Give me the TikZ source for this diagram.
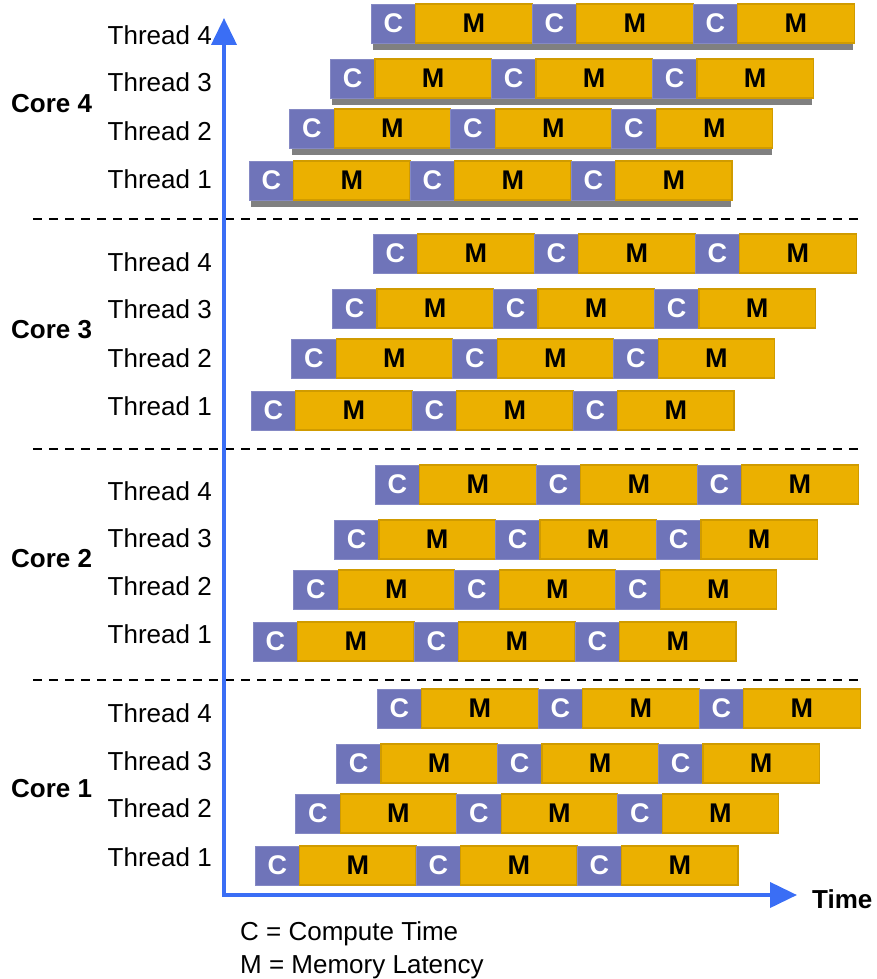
\documentclass[tikz,border=0pt]{standalone}
\usepackage{fontspec}
\setmainfont{Liberation Sans}
\usetikzlibrary{arrows.meta}
\definecolor{cpurple}{HTML}{6F74B9}
\definecolor{cedge}{HTML}{8589C4}
\definecolor{mgold}{HTML}{EBB000}
\definecolor{mgoldedge}{HTML}{D09B00}
\definecolor{axisblue}{HTML}{3A6EF5}
\definecolor{shadowgray}{HTML}{808080}
\begin{document}
\begin{tikzpicture}[x=1pt,y=-1pt,
  cbox/.style={fill=cpurple, draw=cedge, line width=0.8pt, text=white,
    font=\fontsize{27}{27}\selectfont\bfseries, minimum width=44.5pt,
    minimum height=39pt, inner sep=0pt, outer sep=0pt, anchor=north west},
  mbox/.style={fill=mgold, draw=mgoldedge, line width=1.2pt, text=black,
    font=\fontsize{27}{27}\selectfont\bfseries, minimum width=116.5pt,
    minimum height=39pt, inner sep=0pt, outer sep=0pt, anchor=north west},
  lbl/.style={font=\fontsize{26}{26}\selectfont, anchor=base east, inner sep=0pt},
  corelbl/.style={font=\fontsize{26}{26}\selectfont\bfseries, anchor=base west, inner sep=0pt},
  legend/.style={font=\fontsize{26}{26}\selectfont, anchor=base west, inner sep=0pt},
  sepline/.style={dash pattern=on 9pt off 7pt, line width=2pt},
  axisline/.style={axisblue, line width=4pt, line join=miter,
    {Triangle[length=27pt,width=25pt]}-{Triangle[length=27pt,width=25pt]}},
]
\useasboundingbox (0,0) rectangle (876,979);

% bars
\foreach \k/\by/\bx in {4/4/249, 3/234/251, 2/465/253, 1/689/255} {
  \foreach \t/\dy in {4/0, 3/55, 2/105, 1/157} {
    \pgfmathsetmacro\xs{\bx+40.7*(\t-1)}
    \pgfmathsetmacro\yt{\by+\dy}
    \ifnum\k=4
      \fill[shadowgray] (\xs+2,\yt+7) rectangle (\xs+482,\yt+46);
    \fi
    \foreach \i in {0,1,2} {
      \pgfmathsetmacro\xc{\xs+161*\i}
      \node[cbox] (c\k-\t-\i) at (\xc,\yt) {C};
      \node[mbox] (m\k-\t-\i) at (\xc+44.5,\yt) {M};
    }
  }
}

% thread and core labels
\foreach \k/\a/\b/\c/\d/\cb in {4/45/92/140/188/113, 3/271/318/367/415/338,
                                2/500/547/595/643/567, 1/722/770/817/866/797} {
  \node[lbl] (t\k-4) at (212,\a) {Thread 4};
  \node[lbl] (t\k-3) at (212,\b) {Thread 3};
  \node[lbl] (t\k-2) at (212,\c) {Thread 2};
  \node[lbl] (t\k-1) at (212,\d) {Thread 1};
  \node[corelbl] (core\k) at (11,\cb) {Core \k};
}

% separators
\foreach \y [count=\n] in {219,449,680} {
  \coordinate (sepL\n) at (33,\y);
  \coordinate (sepR\n) at (860,\y);
  \draw[sepline] (sepL\n) -- (sepR\n);
}

% axes
\coordinate (ytip) at (224,18);
\coordinate (origin) at (224,895);
\coordinate (xtip) at (797,895);
\draw[axisline] (ytip) -- (origin) -- (xtip);
\node[corelbl] (time) at (812,908) {Time};

% legend
\node[legend] (legC) at (240,940) {C = Compute Time};
\node[legend] (legM) at (240,973) {M = Memory Latency};
\end{tikzpicture}
\end{document}
